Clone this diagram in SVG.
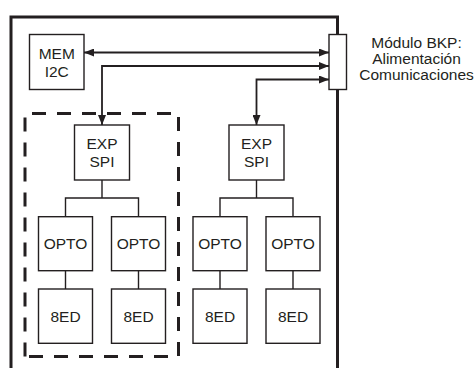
<svg xmlns="http://www.w3.org/2000/svg" width="474" height="368" viewBox="0 0 474 368">
<style>
.box{fill:#fff;stroke:#231f20;stroke-width:1.4}
.t{font-family:"Liberation Sans",Arial,sans-serif;font-size:15.5px;fill:#231f20;text-anchor:middle}
.ln{fill:none;stroke:#231f20;stroke-width:1.4}
.ar{fill:none;stroke:#231f20;stroke-width:1.8}
</style>
<defs>
<marker id="ah" viewBox="0 0 10 8" refX="10" refY="4" markerWidth="10" markerHeight="8" markerUnits="userSpaceOnUse" orient="auto-start-reverse">
<path d="M0,0 L10,4 L0,8 Z" fill="#231f20"/>
</marker>
</defs>
<rect width="474" height="368" fill="#fff"/>
<g id="frame">
<path d="M11,368 V17 H337.5 V368" fill="none" stroke="#231f20" stroke-width="3"/>
<path d="M25,356.5 V113.5 H178.5 V356.5 H25" fill="none" stroke="#231f20" stroke-width="3" stroke-dasharray="14 11"/>
</g>
<g id="connectors">
<path class="ar" d="M84,52.5 H329" marker-start="url(#ah)" marker-end="url(#ah)"/>
<path class="ar" d="M329,66 H102 V125" marker-start="url(#ah)" marker-end="url(#ah)"/>
<path class="ar" d="M329,79.5 H256.5 V125" marker-start="url(#ah)" marker-end="url(#ah)"/>
<path class="ln" d="M102,180 V198 M65.5,216.7 V198 H138.5 V216.7 M65.5,270.7 V289 M138.5,270.7 V289"/>
<path class="ln" d="M256.5,180 V198 M220,216.7 V198 H293 V216.7 M220,270.7 V289 M293,270.7 V289"/>
</g>
<g id="mem"><rect class="box" x="29.5" y="34.5" width="54.5" height="55"/><text class="t" x="56.75" y="58.5">MEM</text><text class="t" x="56.75" y="76.5">I2C</text></g>
<g id="bkp"><rect class="box" x="329" y="34.5" width="17.5" height="55"/></g>
<g id="bkp-label"><text class="t" x="416.5" y="48">Módulo BKP:</text><text class="t" x="416.5" y="64">Alimentación</text><text class="t" x="416.5" y="80">Comunicaciones</text></g>
<g id="exp1"><rect class="box" x="74.5" y="125" width="55" height="55"/><text class="t" x="102" y="148.5">EXP</text><text class="t" x="102" y="167">SPI</text></g>
<g id="exp2"><rect class="box" x="229" y="125" width="55" height="55"/><text class="t" x="256.5" y="148.5">EXP</text><text class="t" x="256.5" y="167">SPI</text></g>
<g id="opto1"><rect class="box" x="38.5" y="216.7" width="54" height="54"/><text class="t" x="65.5" y="249.3">OPTO</text></g>
<g id="opto2"><rect class="box" x="111.5" y="216.7" width="54" height="54"/><text class="t" x="138.5" y="249.3">OPTO</text></g>
<g id="opto3"><rect class="box" x="193" y="216.7" width="54" height="54"/><text class="t" x="220" y="249.3">OPTO</text></g>
<g id="opto4"><rect class="box" x="266" y="216.7" width="54" height="54"/><text class="t" x="293" y="249.3">OPTO</text></g>
<g id="ed1"><rect class="box" x="38.5" y="289" width="54" height="54.3"/><text class="t" x="65.5" y="322">8ED</text></g>
<g id="ed2"><rect class="box" x="111.5" y="289" width="54" height="54.3"/><text class="t" x="138.5" y="322">8ED</text></g>
<g id="ed3"><rect class="box" x="193" y="289" width="54" height="54.3"/><text class="t" x="220" y="322">8ED</text></g>
<g id="ed4"><rect class="box" x="266" y="289" width="54" height="54.3"/><text class="t" x="293" y="322">8ED</text></g>
</svg>
